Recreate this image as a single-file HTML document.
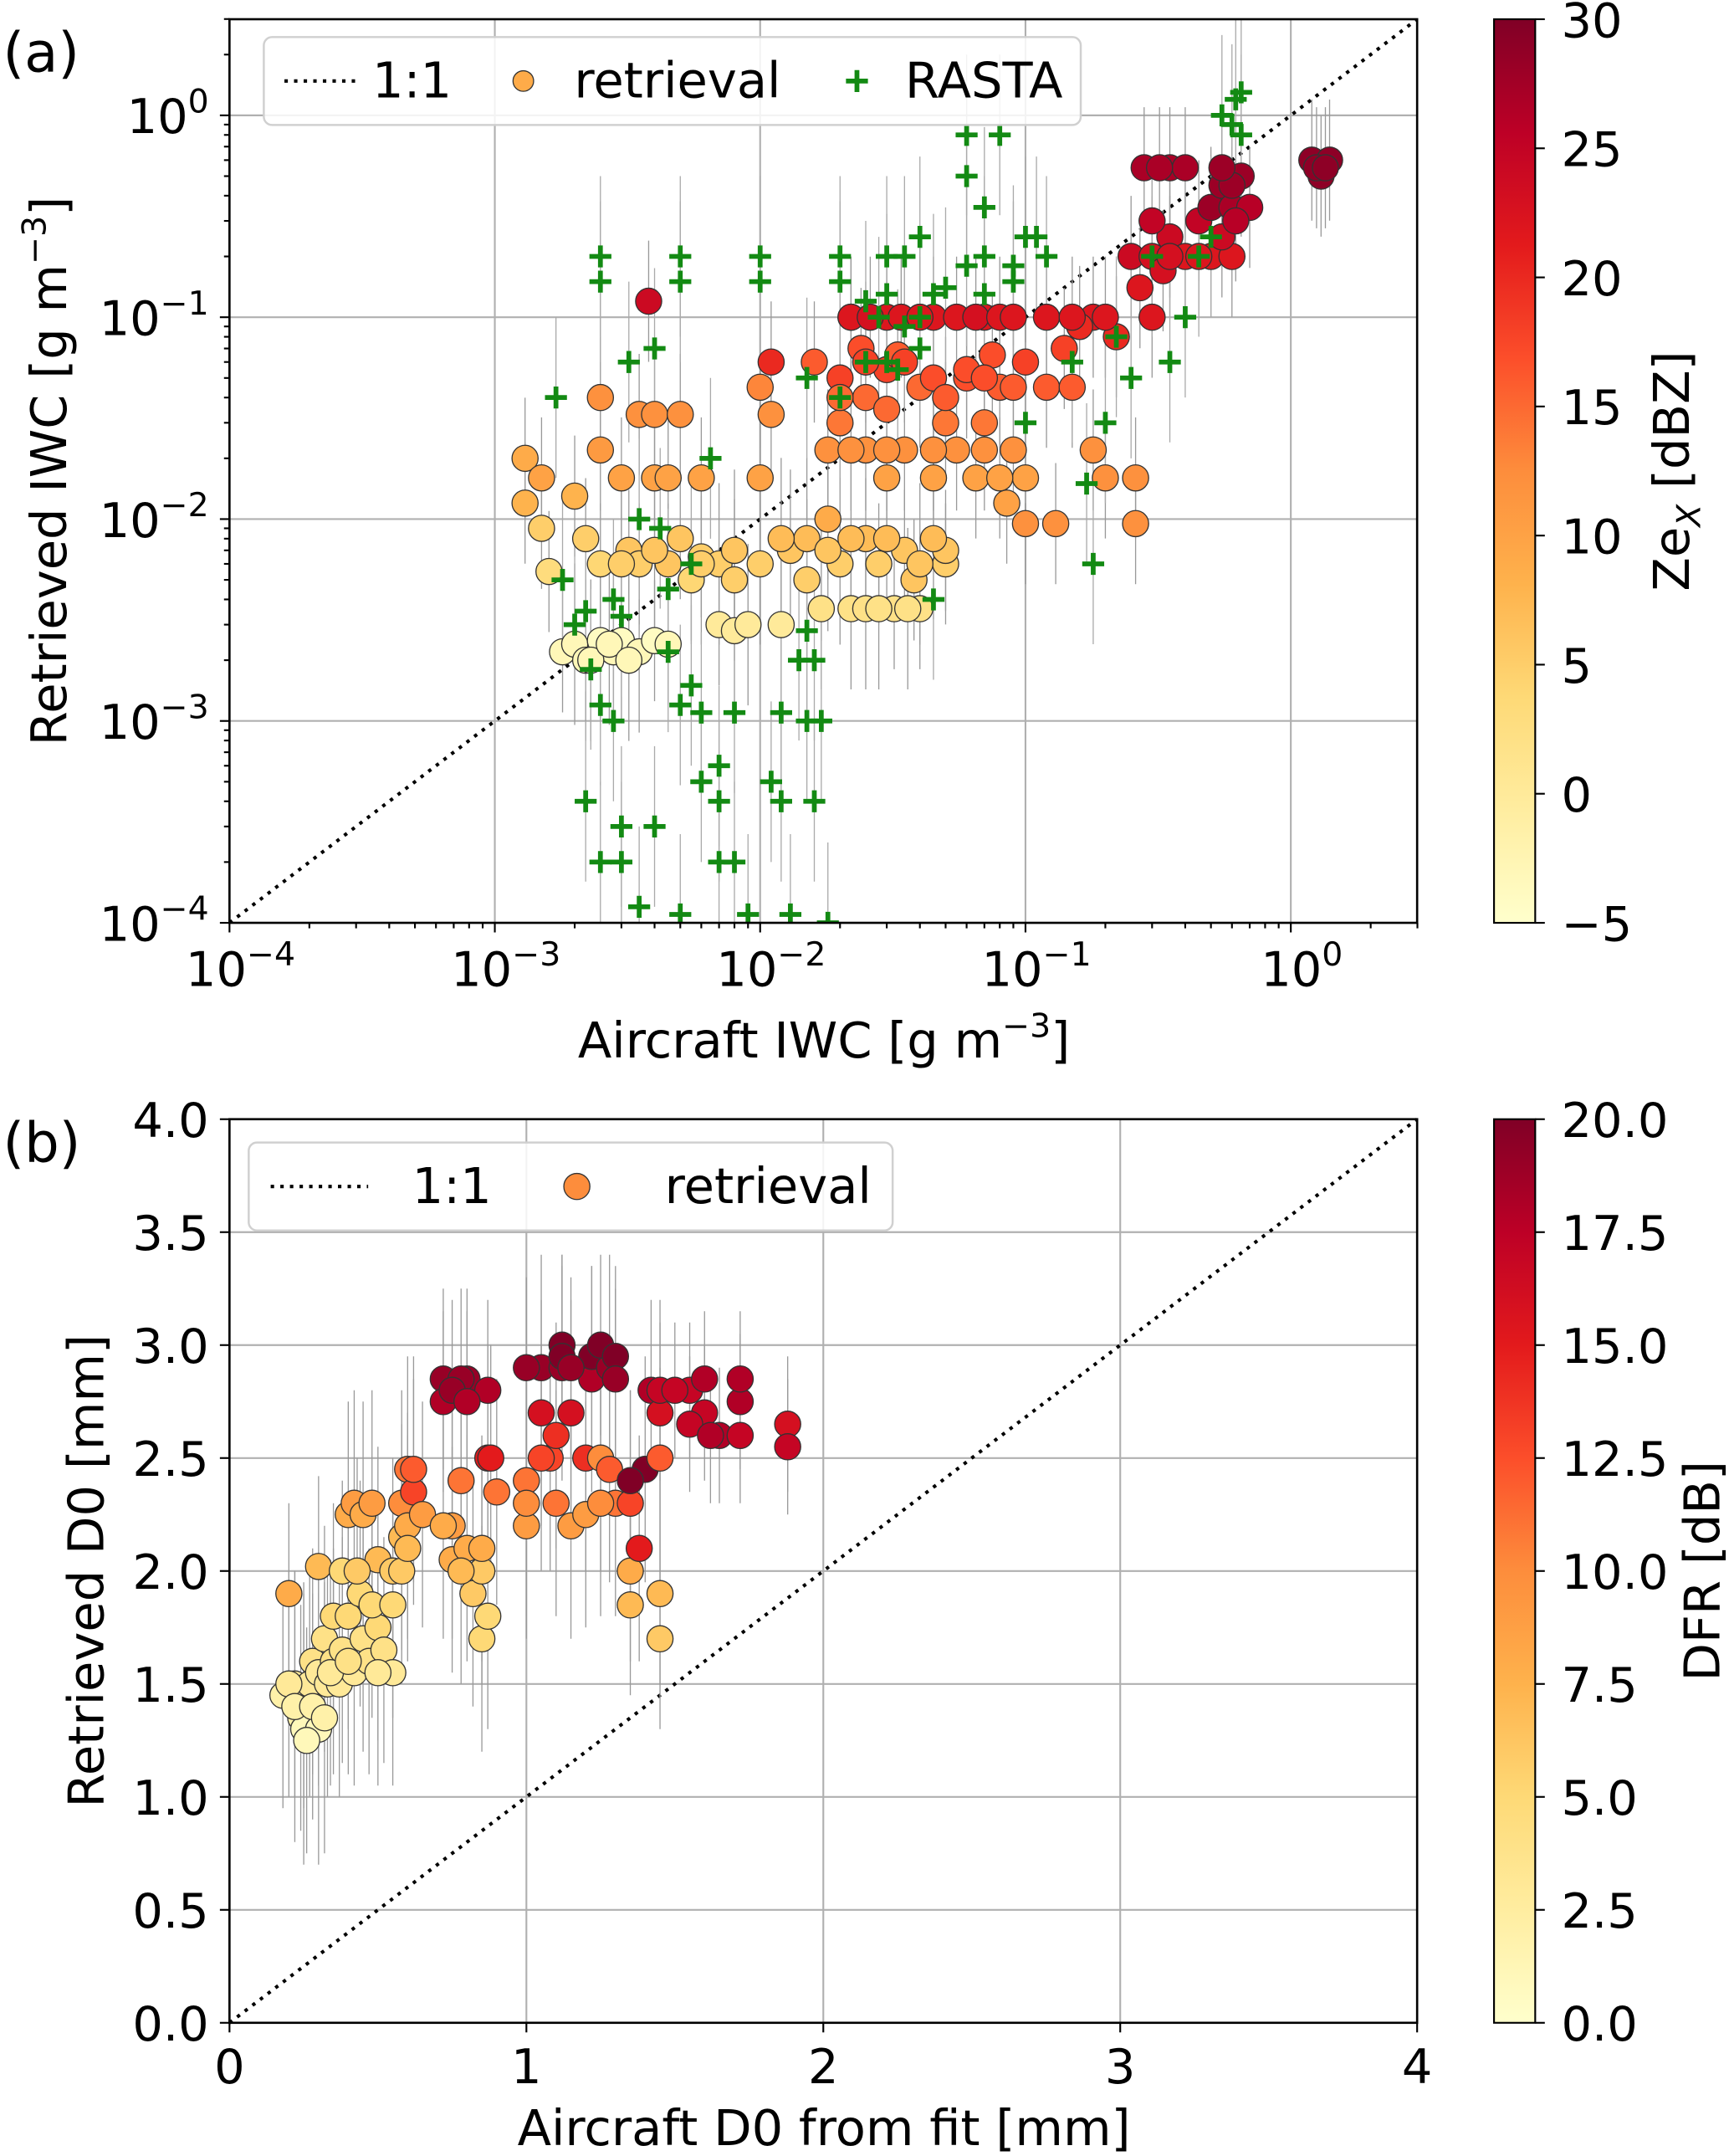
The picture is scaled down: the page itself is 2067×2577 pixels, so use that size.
<!DOCTYPE html>
<html><head><meta charset="utf-8"><style>
html,body{margin:0;padding:0;background:#fff}
svg{display:block;font-family:"DejaVu Sans","Liberation Sans",sans-serif}
</style></head><body>
<svg id="fig" width="2067" height="2577" viewBox="0 0 1259 1570" xmlns="http://www.w3.org/2000/svg">
<defs>
<linearGradient id="cmap" x1="0" y1="1" x2="0" y2="0">
<stop offset="0" stop-color="#ffffcc"/><stop offset="0.125" stop-color="#ffeda0"/><stop offset="0.25" stop-color="#fed976"/><stop offset="0.375" stop-color="#feb24c"/><stop offset="0.5" stop-color="#fd8d3c"/><stop offset="0.625" stop-color="#fc4e2a"/><stop offset="0.75" stop-color="#e31a1c"/><stop offset="0.875" stop-color="#bd0026"/><stop offset="1" stop-color="#800026"/>
</linearGradient>
<clipPath id="clipA"><rect x="167" y="14" width="865" height="658"/></clipPath>
<clipPath id="clipB"><rect x="167" y="815" width="865" height="658"/></clipPath>
</defs>
<g id="root"></g>
</svg>
<script>
// Panel (a) data
const aX=[0.0013,0.0013,0.0015,0.0015,0.0016,0.0018,0.002,0.0022,0.0025,0.0028,0.003,0.0035,0.004,0.0045,0.002,0.0022,0.0025,0.0025,0.0025,0.003,0.0032,0.0035,0.0035,0.0038,0.004,0.004,0.0045,0.0045,0.005,0.005,0.0055,0.006,0.006,0.007,0.007,0.008,0.008,0.009,0.01,0.01,0.01,0.011,0.011,0.012,0.013,0.015,0.015,0.017,0.018,0.018,0.02,0.02,0.02,0.022,0.022,0.025,0.025,0.025,0.028,0.03,0.03,0.03,0.032,0.035,0.035,0.04,0.04,0.045,0.045,0.05,0.05,0.055,0.06,0.065,0.07,0.07,0.08,0.09,0.1,0.1,0.1,0.12,0.12,0.13,0.15,0.18,0.18,0.2,0.22,0.25,0.26,0.26,0.28,0.3,0.3,0.35,0.35,0.4,0.4,0.45,0.5,0.5,0.55,0.6,0.6,0.65,0.7,1.2,1.3,1.4,1.25,0.016,0.024,0.033,0.038,0.05,0.06,0.075,0.085,0.14,0.16,0.27,0.33,
0.022,0.026,0.034,0.04,0.055,0.065,0.08,0.09,0.15,0.2,0.025,0.035,0.045,0.07,0.09,0.02,0.03,0.05,0.022,0.03,0.045,0.07,0.08,0.012,0.018,0.022,0.03,0.04,0.045,0.006,0.008,0.004,0.003,0.025,0.028,0.036,0.3,0.35,0.45,0.55,0.6,0.62,0.32,0.55,1.35,0.0023,0.0027,0.0032];
const aY=[0.02,0.012,0.016,0.009,0.0055,0.0022,0.0024,0.002,0.0025,0.0022,0.0025,0.0022,0.0025,0.0024,0.013,0.008,0.006,0.04,0.022,0.016,0.007,0.006,0.033,0.12,0.016,0.033,0.006,0.016,0.008,0.033,0.005,0.0065,0.016,0.003,0.006,0.0028,0.007,0.003,0.006,0.045,0.016,0.06,0.033,0.003,0.007,0.005,0.008,0.0036,0.022,0.01,0.03,0.006,0.05,0.1,0.0036,0.022,0.008,0.04,0.006,0.016,0.055,0.1,0.0036,0.022,0.007,0.045,0.0036,0.016,0.1,0.006,0.03,0.022,0.05,0.016,0.03,0.1,0.045,0.022,0.016,0.06,0.0095,0.045,0.1,0.0095,0.045,0.022,0.1,0.016,0.08,0.2,0.0095,0.016,0.55,0.2,0.1,0.55,0.25,0.2,0.55,0.3,0.35,0.2,0.45,0.35,0.2,0.5,0.35,0.6,0.5,0.6,0.55,0.06,0.07,0.065,0.005,0.007,0.055,0.065,0.012,0.07,0.09,0.14,0.17,
0.1,0.1,0.1,0.1,0.1,0.1,0.1,0.1,0.1,0.1,0.06,0.06,0.05,0.05,0.045,0.04,0.035,0.04,0.022,0.022,0.022,0.022,0.016,0.008,0.007,0.008,0.008,0.006,0.008,0.006,0.005,0.007,0.006,0.0036,0.0036,0.0036,0.3,0.2,0.2,0.25,0.45,0.3,0.55,0.55,0.55,0.002,0.0024,0.002];
const aZ=[9,8,10,5,3,-3,-3,-3,-4,-3,-4,-3,-4,-3,8,5,4,12,11,10,6,5,12,24,10,12,6,10,6,12,4,5,10,0,5,0,6,0,5,13,10,20,12,0,6,5,7,2,12,9,14,5,18,22,2,12,7,15,5,10,18,22,2,12,6,15,2,10,22,5,14,12,17,10,14,22,16,12,10,18,12,16,22,12,16,12,22,12,20,24,12,12,27,23,22,27,24,22,27,25,28,22,28,27,22,28,26,29,29,29,29,16,17,16,6,6,17,17,10,18,20,22,23,
22,23,22,22,22,23,22,22,22,22,18,18,17,17,16,15,15,16,12,12,12,12,10,7,6,7,7,6,7,5,5,6,5,2,2,2,25,23,22,24,28,26,27,28,29,-3,-3,-3];
const aE=[0.3,0.3,0.3,0.3,0.3,0.3,0.4,0.4,0.4,0.4,0.4,0.4,0.3,0.3,0.3,0.3,0.3,0.3,0.3,0.3,0.3,0.3,0.3,0.3,0.3,0.3,0.3,0.3,0.3,0.3,0.3,0.3,0.3,0.3,0.4,0.4,0.4,0.4,0.4,0.3,0.3,0.3,0.3,0.4,0.4,0.4,0.4,0.4,0.3,0.3,0.3,0.4,0.3,0.3,0.4,0.3,0.3,0.3,0.3,0.3,0.3,0.3,0.3,0.3,0.3,0.3,0.3,0.3,0.3,0.3,0.3,0.3,0.3,0.3,0.3,0.3,0.3,0.3,0.3,0.3,0.3,0.3,0.3,0.3,0.3,0.3,0.3,0.3,0.3,0.3,0.3,0.3,0.3,0.3,0.3,0.3,0.3,0.3,0.3,0.3,0.3,0.3,0.3,0.3,0.3,0.3,0.3,0.3,0.3,0.3,0.3,0.3,0.3,0.3,0.3,0.3,0.3,0.3,0.3,0.3,0.3,0.3,0.3,
0.3,0.3,0.3,0.3,0.3,0.3,0.3,0.3,0.3,0.3,0.3,0.3,0.3,0.3,0.3,0.3,0.3,0.3,0.3,0.3,0.3,0.3,0.3,0.4,0.4,0.4,0.4,0.4,0.4,0.4,0.4,0.4,0.4,0.4,0.4,0.4,0.3,0.3,0.3,0.3,0.3,0.3,0.3,0.3,0.3,0.4,0.4,0.4];
const rX=[0.0017,0.0018,0.002,0.0022,0.0023,0.0025,0.0025,0.0025,0.0028,0.003,0.003,0.0032,0.0035,0.0035,0.004,0.004,0.0045,0.005,0.005,0.005,0.005,0.0055,0.006,0.006,0.0065,0.007,0.007,0.008,0.008,0.009,0.01,0.01,0.011,0.012,0.012,0.013,0.014,0.015,0.016,0.017,0.018,0.02,0.02,0.025,0.03,0.03,0.035,0.04,0.04,0.045,0.05,0.06,0.06,0.07,0.08,0.09,0.1,0.11,0.12,0.15,0.17,0.18,0.2,0.22,0.25,0.3,0.35,0.4,0.45,0.5,0.6,0.62,0.65,0.03,0.015,0.04,0.07,0.0022,0.0028,0.0042,
0.028,0.035,0.045,0.06,0.07,0.09,0.1,0.65,0.55,0.02,0.025,0.033,0.0045,0.003,0.0025,0.0055,0.007,0.015,0.016];
const rY=[0.04,0.005,0.003,0.0004,0.0018,0.0002,0.2,0.15,0.001,0.0002,0.0003,0.06,0.00012,0.01,0.07,0.0003,0.0022,0.2,0.15,0.0012,0.00011,0.006,0.0005,0.0011,0.02,0.0002,0.0004,0.0002,0.0011,0.00011,0.2,0.15,0.0005,0.0004,0.0011,0.00011,0.002,0.0028,0.0004,0.001,0.0001,0.15,0.2,0.12,0.2,0.06,0.09,0.25,0.1,0.004,0.14,0.8,0.5,0.35,0.8,0.15,0.03,0.25,0.2,0.06,0.015,0.006,0.03,0.08,0.05,0.2,0.06,0.1,0.2,0.25,0.9,1.2,0.8,0.13,0.05,0.07,0.13,0.0035,0.004,0.009,
0.1,0.2,0.13,0.18,0.2,0.18,0.25,1.3,1.0,0.04,0.06,0.055,0.0045,0.0033,0.0012,0.0015,0.0006,0.001,0.002];
const aXTicks=[-4,-3,-2,-1,0];
const aYTicks=[-4,-3,-2,-1,0];
const cbATicks=[30,25,20,15,10,5,0,-5];
// Panel (b) data
const bX=[0.2,0.22,0.24,0.25,0.25,0.27,0.28,0.3,0.3,0.3,0.32,0.33,0.35,0.35,0.37,0.38,0.38,0.4,0.4,0.42,0.42,0.44,0.45,0.45,0.47,0.5,0.5,0.52,0.55,0.55,0.58,0.58,0.6,0.6,0.62,0.65,0.72,0.72,0.75,0.75,0.78,0.8,0.8,0.82,0.85,0.85,0.87,0.87,0.9,1.0,1.0,1.05,1.05,1.08,1.1,1.12,1.12,1.15,1.15,1.2,1.22,1.22,1.25,1.28,1.3,1.35,1.35,1.35,1.38,1.4,1.42,1.45,1.45,1.45,1.45,1.55,1.6,1.6,1.65,1.72,1.72,1.88,1.88,1.0,0.88,1.25,1.3,0.18,0.78,
0.2,0.22,0.26,0.28,0.32,0.34,0.4,0.43,0.48,0.5,0.55,0.58,0.6,0.72,0.75,0.78,0.8,0.85,0.87,1.0,1.05,1.1,1.12,1.15,1.2,1.25,1.28,1.35,1.45,1.5,1.55,1.62,1.72,1.3,0.48,0.62];
const bY=[1.9,1.5,1.35,1.3,1.45,1.5,1.6,1.3,1.55,2.02,1.7,1.5,1.8,1.6,1.5,1.65,2.0,1.8,2.25,2.3,1.55,1.9,2.25,1.7,1.6,2.05,1.75,1.65,2.0,1.55,2.15,2.3,2.45,2.2,2.35,2.25,2.85,2.75,2.2,2.05,2.4,2.85,2.1,1.9,2.0,1.7,2.5,2.8,2.35,2.2,2.4,2.9,2.7,2.5,2.3,2.9,3.0,2.7,2.2,2.5,2.85,2.95,2.5,2.9,2.3,2.0,1.85,2.3,2.1,2.45,2.8,1.9,1.7,2.7,2.5,2.8,2.7,2.85,2.6,2.75,2.6,2.65,2.55,2.9,2.5,3.0,2.95,1.45,2.85,
1.5,1.4,1.25,1.4,1.35,1.55,1.6,2.0,1.85,1.55,1.85,2.0,2.1,2.2,2.8,2.0,2.75,2.1,1.8,2.3,2.5,2.6,2.95,2.9,2.25,2.3,2.45,2.4,2.8,2.8,2.65,2.6,2.85,2.85,2.3,2.45];
const bZ=[8,3,2,1,2,3,4,1,3,7,4,3,5,4,3,4,5,5,8,9,3,5,8,4,4,7,5,4,6,3,7,10,11,8,13,9,19,18,9,8,11,19,8,6,6,5,15,18,11,9,11,19,16,13,11,19,20,16,9,14,18,20,10,19,11,8,7,13,15,20,18,7,6,16,12,17,17,18,18,18,17,16,17,19,15,20,20,2,19,
3,2,1,2,2,3,4,6,5,3,5,6,7,8,19,7,18,8,5,10,13,14,20,19,9,10,12,20,17,17,17,18,18,19,9,12];
const bE=[0.4,0.5,0.5,0.6,0.5,0.5,0.5,0.6,0.5,0.4,0.5,0.5,0.5,0.5,0.5,0.5,0.4,0.5,0.5,0.5,0.5,0.5,0.5,0.5,0.5,0.5,0.5,0.5,0.5,0.5,0.5,0.5,0.5,0.5,0.5,0.5,0.4,0.4,0.5,0.5,0.5,0.4,0.5,0.5,0.5,0.5,0.5,0.4,0.5,0.5,0.5,0.5,0.5,0.5,0.5,0.5,0.4,0.5,0.5,0.5,0.5,0.4,0.5,0.5,0.5,0.4,0.4,0.5,0.5,0.5,0.4,0.4,0.4,0.4,0.4,0.3,0.3,0.3,0.3,0.3,0.3,0.3,0.3,0.4,0.5,0.4,0.4,0.5,0.4,
0.5,0.6,0.5,0.5,0.6,0.5,0.5,0.5,0.5,0.5,0.5,0.5,0.5,0.5,0.4,0.5,0.4,0.5,0.5,0.5,0.5,0.5,0.4,0.4,0.5,0.5,0.5,0.4,0.4,0.3,0.3,0.3,0.3,0.4,0.5,0.5];
const bTicks=[0,1,2,3,4];
const bYTicks=[0,0.5,1,1.5,2,2.5,3,3.5,4];
const cbBTicks=[0,2.5,5,7.5,10,12.5,15,17.5,20];

const NS="http://www.w3.org/2000/svg";
const root=document.getElementById('root');
function mk(tag,attrs,parent){const e=document.createElementNS(NS,tag);for(const k in attrs)e.setAttribute(k,attrs[k]);(parent||root).appendChild(e);return e;}
const stops=[[0,[255,255,204]],[0.125,[255,237,160]],[0.25,[254,217,118]],[0.375,[254,178,76]],[0.5,[253,141,60]],[0.625,[252,78,42]],[0.75,[227,26,28]],[0.875,[189,0,38]],[1,[128,0,38]]];
function cmap(t){t=Math.max(0,Math.min(1,t));for(let i=1;i<stops.length;i++){if(t<=stops[i][0]){const a=stops[i-1],b=stops[i];const f=(t-a[0])/(b[0]-a[0]);const c=a[1].map((v,j)=>Math.round(v+(b[1][j]-v)*f));return `rgb(${c})`;}}return 'rgb(128,0,38)';}

const L=167,R=1032,AT=14,AB=672,BT=815,BB=1473;
const FT=35,FL=36,FS=24;
const axA=v=>L+(Math.log10(v)+4)*(940-L)/4;
const ayA=v=>AB-(Math.log10(v)+4)*(AB-84)/4;
const axB=v=>L+v*(R-L)/4;
const ayB=v=>BB-v*(BB-BT)/4;

const gA=mk('g',{});
aXTicks.forEach(t=>{const x=axA(Math.pow(10,t));mk('line',{x1:x,x2:x,y1:AT,y2:AB,stroke:'#b0b0b0','stroke-width':1.3},gA);});
aYTicks.forEach(t=>{const y=ayA(Math.pow(10,t));mk('line',{x1:L,x2:R,y1:y,y2:y,stroke:'#b0b0b0','stroke-width':1.3},gA);});
const ooA=mk('line',{x1:axA(1e-4),y1:ayA(1e-4),x2:R,y2:ayA(Math.pow(10,(R-L)/((940-L)/4)-4)),stroke:'#000','stroke-width':2.5,'stroke-dasharray':'2.5 4.5','clip-path':'url(#clipA)'});

const eA=mk('g',{'clip-path':'url(#clipA)'});
aX.forEach((x,i)=>{const X=axA(x);mk('line',{x1:X,x2:X,y1:ayA(aY[i]*Math.pow(10,aE[i])),y2:ayA(aY[i]/Math.pow(10,aE[i])),stroke:'#999','stroke-width':0.8},eA);});
rX.forEach((x,i)=>{const X=axA(x);mk('line',{x1:X,x2:X,y1:ayA(rY[i]*2.5),y2:ayA(rY[i]/2.5),stroke:'#aaa','stroke-width':0.8},eA);});
const pA=mk('g',{'clip-path':'url(#clipA)'});
aX.forEach((x,i)=>{const c=mk('circle',{cx:axA(x),cy:ayA(aY[i]),r:9.5,fill:cmap((aZ[i]+5)/35),stroke:'#333','stroke-width':0.8},pA);

});
const gR=mk('g',{'clip-path':'url(#clipA)'});
rX.forEach((x,i)=>{const X=axA(x),Y=ayA(rY[i]);const p=mk('path',{d:`M${X-8},${Y}H${X+8}M${X},${Y-8}V${Y+8}`,stroke:'#138a13','stroke-width':3.5},gR);

});
const fA=mk('rect',{x:L,y:AT,width:R-L,height:AB-AT,fill:'none',stroke:'#000','stroke-width':1.6});
const tA=mk('g',{});
for(let d=-4;d<=0;d++){for(let m=1;m<10;m++){const v=m*Math.pow(10,d);const len=m==1?7:4;
 const X=axA(v);if(X<=R+0.5){mk('line',{x1:X,x2:X,y1:AB,y2:AB+len,stroke:'#000','stroke-width':1.3},tA);}
 const Y=ayA(v);if(Y>=AT-0.5){mk('line',{x1:L,x2:L-len,y1:Y,y2:Y,stroke:'#000','stroke-width':1.3},tA);}}}
function powLabel(x,y,exp,anchor,g){const t=mk('text',{x:x,y:y,'font-size':FT,'text-anchor':anchor},g);t.innerHTML=`10<tspan dy="-15" font-size="${FS}">${exp<0?'−'+(-exp):exp}</tspan>`;return t;}
aXTicks.forEach(t=>{const e=powLabel(axA(Math.pow(10,t))+8,718,t,'middle',tA);});
aYTicks.forEach(t=>{const e=powLabel(152,ayA(Math.pow(10,t))+13,t,'end',tA);});
let t;
t=mk('text',{x:600,y:770,'font-size':FL,'text-anchor':'middle'});t.innerHTML=`Aircraft IWC [g m<tspan dy="-15" font-size="${FS}">−3</tspan><tspan dy="15">]</tspan>`;
t=mk('text',{x:0,y:0,'font-size':FL,'text-anchor':'middle',transform:'translate(48,343) rotate(-90)'});t.innerHTML=`Retrieved IWC [g m<tspan dy="-15" font-size="${FS}">−3</tspan><tspan dy="15">]</tspan>`;
t=mk('text',{x:2,y:52,'font-size':40});t.textContent='(a)';
const lgA=mk('g',{});
mk('rect',{x:192,y:27,width:595,height:64,rx:6,fill:'rgba(255,255,255,0.85)',stroke:'#d0d0d0','stroke-width':1.5},lgA);
mk('line',{x1:207,x2:262,y1:59,y2:59,stroke:'#000','stroke-width':2.5,'stroke-dasharray':'2.5 4.5'},lgA);
t=mk('text',{x:271,y:71,'font-size':FL},lgA);t.textContent='1:1';
mk('circle',{cx:381,cy:59,r:7.5,fill:'#feab49',stroke:'#333','stroke-width':0.8},lgA);
t=mk('text',{x:418,y:71,'font-size':FL},lgA);t.textContent='retrieval';
mk('path',{d:'M616,59H632M624,51V67',stroke:'#138a13','stroke-width':3.5},lgA);
t=mk('text',{x:659,y:71,'font-size':FL},lgA);t.textContent='RASTA';
const cbA=mk('g',{});
mk('rect',{x:1088,y:AT,width:30,height:AB-AT,fill:'url(#cmap)',stroke:'#000','stroke-width':1.3},cbA);
cbATicks.forEach(v=>{const y=AB-(v+5)/35*(AB-AT);mk('line',{x1:1118,x2:1125,y1:y,y2:y,stroke:'#000','stroke-width':1.3},cbA);const tt=mk('text',{x:1137,y:y+13,'font-size':FT},cbA);tt.textContent=v<0?'−'+(-v):v;});
t=mk('text',{x:0,y:0,'font-size':FL,'text-anchor':'middle',transform:'translate(1230,343) rotate(-90)'});t.innerHTML=`Ze<tspan dy="8" font-size="${FS}" font-style="italic">X</tspan><tspan dy="-8"> [dBZ]</tspan>`;

// ===== Panel b =====
const gB=mk('g',{});
bTicks.forEach(v=>{const x=axB(v);mk('line',{x1:x,x2:x,y1:BT,y2:BB,stroke:'#b0b0b0','stroke-width':1.3},gB);});
bYTicks.forEach(v=>{const y=ayB(v);mk('line',{x1:L,x2:R,y1:y,y2:y,stroke:'#b0b0b0','stroke-width':1.3},gB);});
const ooB=mk('line',{x1:axB(0),y1:ayB(0),x2:axB(4),y2:ayB(4),stroke:'#000','stroke-width':2.5,'stroke-dasharray':'2.5 4.5'});
const eB=mk('g',{'clip-path':'url(#clipB)'});
bX.forEach((x,i)=>{const X=axB(x);mk('line',{x1:X,x2:X,y1:ayB(bY[i]+bE[i]),y2:ayB(bY[i]-bE[i]),stroke:'#999','stroke-width':0.8},eB);});
const pB=mk('g',{'clip-path':'url(#clipB)'});
bX.forEach((x,i)=>{const c=mk('circle',{cx:axB(x),cy:ayB(bY[i]),r:9.5,fill:cmap(bZ[i]/20),stroke:'#333','stroke-width':0.8},pB);

});
const fB=mk('rect',{x:L,y:BT,width:R-L,height:BB-BT,fill:'none',stroke:'#000','stroke-width':1.6});
const tB=mk('g',{});
bTicks.forEach(v=>{const x=axB(v);mk('line',{x1:x,x2:x,y1:BB,y2:BB+7,stroke:'#000','stroke-width':1.3},tB);const tt=mk('text',{x:x,y:BB+44,'font-size':FT,'text-anchor':'middle'},tB);tt.textContent=v;});
bYTicks.forEach(v=>{const y=ayB(v);mk('line',{x1:L,x2:L-7,y1:y,y2:y,stroke:'#000','stroke-width':1.3},tB);const tt=mk('text',{x:152,y:y+13,'font-size':FT,'text-anchor':'end'},tB);tt.textContent=v.toFixed(1);});
t=mk('text',{x:600,y:1562,'font-size':FL,'text-anchor':'middle'});t.textContent='Aircraft D0 from fit [mm]';
t=mk('text',{x:0,y:0,'font-size':FL,'text-anchor':'middle',transform:'translate(75,1144) rotate(-90)'});t.textContent='Retrieved D0 [mm]';
t=mk('text',{x:2,y:846,'font-size':40});t.textContent='(b)';
const lgB=mk('g',{});
mk('rect',{x:181,y:832,width:469,height:64,rx:6,fill:'rgba(255,255,255,0.85)',stroke:'#d0d0d0','stroke-width':1.5},lgB);
mk('line',{x1:197,x2:268,y1:864,y2:864,stroke:'#000','stroke-width':2.5,'stroke-dasharray':'2.5 4.5'},lgB);
t=mk('text',{x:300,y:876,'font-size':FL},lgB);t.textContent='1:1';
mk('circle',{cx:420,cy:864,r:9.5,fill:'#fd8d3c',stroke:'#333','stroke-width':0.8},lgB);
t=mk('text',{x:484,y:876,'font-size':FL},lgB);t.textContent='retrieval';
const cbB=mk('g',{});
mk('rect',{x:1088,y:BT,width:30,height:BB-BT,fill:'url(#cmap)',stroke:'#000','stroke-width':1.3},cbB);
cbBTicks.forEach(v=>{const y=BB-v/20*(BB-BT);mk('line',{x1:1118,x2:1125,y1:y,y2:y,stroke:'#000','stroke-width':1.3},cbB);const tt=mk('text',{x:1137,y:y+13,'font-size':FT},cbB);tt.textContent=v.toFixed(1);});
t=mk('text',{x:0,y:0,'font-size':FL,'text-anchor':'middle',transform:'translate(1252,1144) rotate(-90)'});t.textContent='DFR [dB]';
</script>
</body></html>
